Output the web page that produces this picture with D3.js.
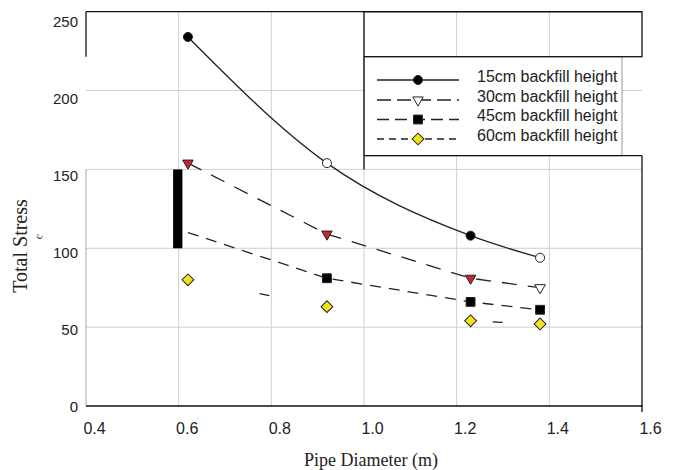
<!DOCTYPE html>
<html>
<head>
<meta charset="utf-8">
<script src="https://cdn.jsdelivr.net/npm/d3@7"></script>
<style>
  body { margin: 0; background: #fff; }
  svg text { fill: #222; }
  .tick-label { font-family: "Liberation Sans", Arial, sans-serif; }
  .axis-title { font-family: "Liberation Serif", "Times New Roman", serif; }
</style>
</head>
<body>
<div id="chart"></div>
<script>
// pipe diameters (m)
const diameters = [0.62, 0.92, 1.23, 1.38];
// total stress per backfill height
const stress15 = [234, 154, 108, 94];
const stress30 = [154, 109, 81, 75];
const stress45 = [110, 81, 66, 61];
const stress60 = [80, 63, 54, 52];
const seriesNames = ["15cm backfill height", "30cm backfill height",
  "45cm backfill height", "60cm backfill height"];
const xTicks = [0.4, 0.6, 0.8, 1.0, 1.2, 1.4, 1.6];
const yTicks = [0, 50, 100, 150, 200, 250];
// stray black bar in the figure (x from, x to, y from, y to)
const barX = [0.588, 0.608];
const barY = [100, 150];

const width = 675, height = 470;
const svg = d3.select("#chart").append("svg")
  .attr("width", width).attr("height", height);

const x = d3.scaleLinear().domain([0.4, 1.6]).range([86, 642]);
const y = d3.scaleLinear().domain([0, 250]).range([406, 11.7]);
// tick labels sit slightly off the grid in the original scan
const yLab = d3.scaleLinear().domain([0, 250]).range([406.7, 21.7]);

const grid = "#cfcfcf";

// gridlines
svg.append("g").selectAll("line").data(xTicks.slice(1, -1)).join("line")
  .attr("x1", d => x(d)).attr("x2", d => x(d))
  .attr("y1", y(250)).attr("y2", y(0))
  .attr("stroke", grid);
svg.append("g").selectAll("line").data(yTicks.slice(1, -1)).join("line")
  .attr("x1", x(0.4)).attr("x2", x(1.6))
  .attr("y1", d => y(d)).attr("y2", d => y(d))
  .attr("stroke", grid);

// frame pieces (the original frame is broken in places)
const plotTop = y(250), plotBottom = y(0), plotLeft = x(0.4), plotRight = x(1.6);
const legTop = 56.7, legBottom = 155.7, legLeft = x(1.0), legRight = 622;
svg.append("line").attr("x1", plotLeft).attr("x2", plotLeft).attr("y1", y(150)).attr("y2", plotBottom)
  .attr("stroke", "#aaa");
svg.append("line").attr("x1", plotLeft).attr("x2", plotLeft).attr("y1", plotTop).attr("y2", legTop)
  .attr("stroke", "#111").attr("stroke-width", 1.3);
svg.append("line").attr("x1", plotLeft).attr("x2", plotRight).attr("y1", plotTop).attr("y2", plotTop)
  .attr("stroke", "#111").attr("stroke-width", 1.3);
svg.append("line").attr("x1", plotLeft).attr("x2", plotRight + 0.6).attr("y1", plotBottom).attr("y2", plotBottom)
  .attr("stroke", "#111").attr("stroke-width", 1.3);
svg.append("line").attr("x1", plotRight).attr("x2", plotRight).attr("y1", legBottom).attr("y2", plotBottom + 6)
  .attr("stroke", "#111").attr("stroke-width", 1.3);

// legend box with white fill, covering the grid
svg.append("rect").attr("x", legLeft).attr("y", legTop)
  .attr("width", legRight - legLeft).attr("height", legBottom - legTop)
  .attr("fill", "#fff").attr("stroke", "#999");
svg.append("rect").attr("x", legLeft).attr("y", plotTop)
  .attr("width", plotRight - legLeft).attr("height", legTop - plotTop)
  .attr("fill", "none").attr("stroke", "#111").attr("stroke-width", 1.3);
svg.append("line").attr("x1", legLeft).attr("x2", plotRight).attr("y1", legBottom).attr("y2", legBottom)
  .attr("stroke", "#111").attr("stroke-width", 1.3);
svg.append("line").attr("x1", legLeft).attr("x2", legLeft).attr("y1", legTop).attr("y2", y(150))
  .attr("stroke", "#111").attr("stroke-width", 1.3);

// axes (labels only)
const yAxis = svg.append("g").attr("class", "tick-label")
  .attr("transform", `translate(${plotLeft},0)`)
  .call(d3.axisLeft(yLab).tickValues(yTicks).tickSize(0).tickPadding(8).tickFormat(d3.format("d")));
yAxis.select(".domain").remove();
yAxis.selectAll("text").attr("font-size", 15).attr("fill", "#222");

const xAxis = svg.append("g").attr("class", "tick-label")
  .attr("transform", `translate(8,${plotBottom})`)
  .call(d3.axisBottom(x).tickValues(xTicks).tickSize(0).tickPadding(17).tickFormat(d3.format(".1f")));
xAxis.select(".domain").remove();
xAxis.selectAll("text").attr("font-size", 16).attr("fill", "#222");

// axis titles
svg.append("text").attr("class", "axis-title")
  .attr("x", 371).attr("y", 466).attr("text-anchor", "middle")
  .attr("font-size", 18).text("Pipe Diameter (m)");
svg.append("text").attr("class", "axis-title")
  .attr("transform", "translate(27,246) rotate(-90)").attr("text-anchor", "middle")
  .attr("font-size", 20).text("Total Stress");
svg.append("text").attr("class", "axis-title")
  .attr("transform", "translate(41,240) rotate(-70)")
  .attr("font-size", 11).text("c");

// the black bar
svg.append("rect")
  .attr("x", x(barX[0])).attr("width", x(barX[1]) - x(barX[0]))
  .attr("y", y(barY[1])).attr("height", y(barY[0]) - y(barY[1]))
  .attr("fill", "#000");

// series
const series = [
  { values: stress15, dash: null, curve: d3.curveMonotoneX, marker: "circle", fill: "#000", open: [1, 3], skip: [] },
  { values: stress30, dash: "15,11", curve: d3.curveLinear, marker: "tri", fill: "#c4262b", open: [3], skip: [] },
  { values: stress45, dash: "11,8", curve: d3.curveLinear, marker: "square", fill: "#000", open: [], skip: [0] },
  { values: stress60, dash: "10,225", offset: -73, curve: d3.curveLinear, marker: "diamond", fill: "#f2e21c", open: [], skip: [] }
];

const symbolPath = {
  circle: d3.symbol(d3.symbolCircle, 64),
  square: d3.symbol(d3.symbolSquare, 78),
  diamond: d3.symbol(d3.symbolSquare, 70),
  tri: d3.symbol(d3.symbolTriangle, 48)
};
const symbolRotate = { tri: 180, diamond: 45 };
function drawMarker(g, type, cx, cy, fill) {
  g.append("path")
    .attr("d", symbolPath[type]())
    .attr("transform", `translate(${cx},${cy}) rotate(${symbolRotate[type] || 0})`)
    .attr("fill", fill).attr("stroke", "#222").attr("stroke-width", 1);
}

series.forEach(s => {
  const pts = diameters.map((d, i) => [d, s.values[i]]);
  const line = d3.line().x(d => x(d[0])).y(d => y(d[1])).curve(s.curve);
  svg.append("path").attr("d", line(pts))
    .attr("fill", "none").attr("stroke", "#222").attr("stroke-width", 1.3)
    .attr("stroke-dasharray", s.dash)
    .attr("stroke-dashoffset", s.offset || 0);
  const g = svg.append("g");
  pts.forEach((p, i) => {
    if (s.skip.includes(i)) return;
    drawMarker(g, s.marker, x(p[0]), y(p[1]), s.open.includes(i) ? "#fff" : s.fill);
  });
});

// legend
const legRows = [80, 100, 119.5, 139];
const legDash = [null, "14,6", "12,6", "7,5"];
const legMarker = ["circle", "tri", "square", "diamond"];
const legFill = ["#000", "#fff", "#000", "#f2e21c"];
const lg = svg.append("g");
seriesNames.forEach((name, i) => {
  lg.append("line").attr("x1", 377).attr("x2", 459)
    .attr("y1", legRows[i]).attr("y2", legRows[i])
    .attr("stroke", "#222").attr("stroke-width", 1.3)
    .attr("stroke-dasharray", legDash[i]);
  drawMarker(lg, legMarker[i], 418, legRows[i], legFill[i]);
  lg.append("text").attr("class", "tick-label")
    .attr("x", 477).attr("y", legRows[i]).attr("dy", "0.1em")
    .attr("font-size", 16).text(name);
});
</script>
</body>
</html>
